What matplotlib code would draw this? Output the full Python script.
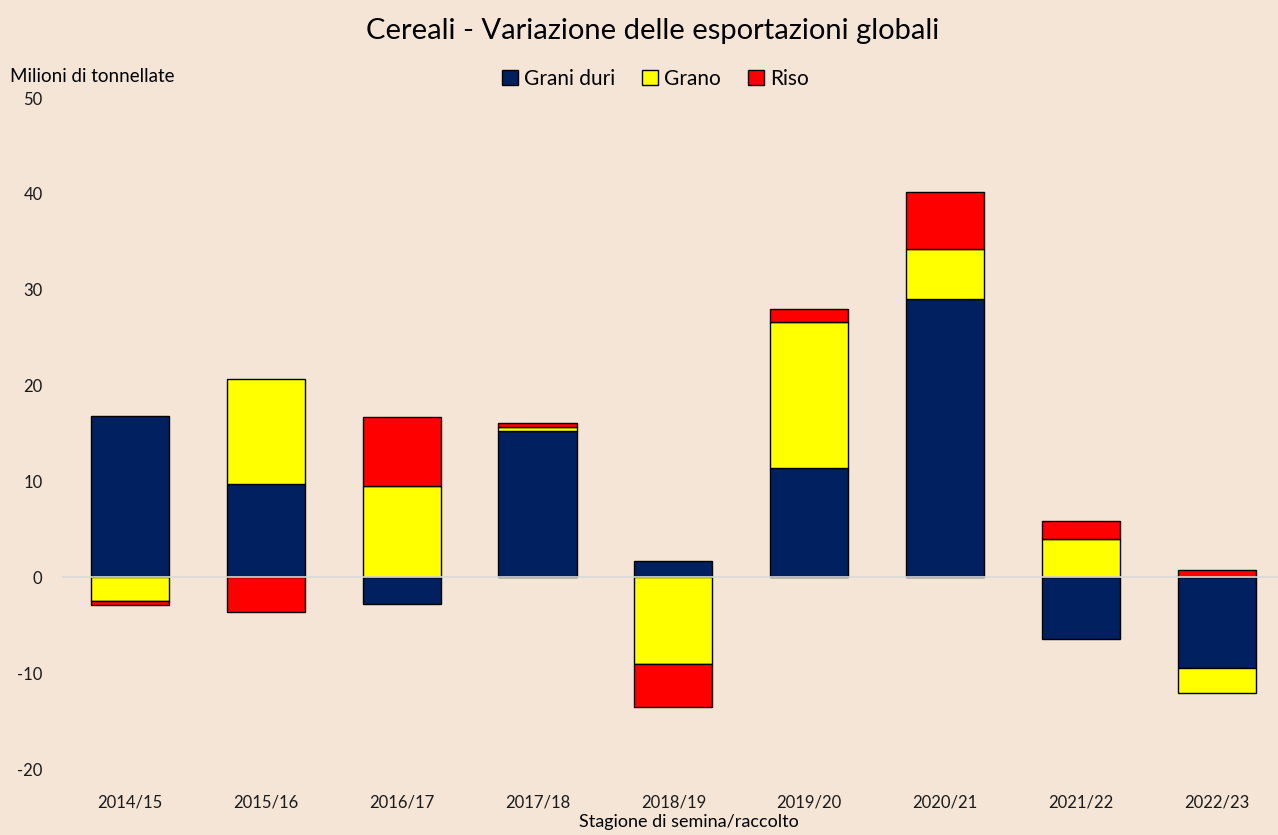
import matplotlib.pyplot as plt
import numpy as np

plt.rcParams['font.family'] = ['Lato', 'DejaVu Sans']
plt.rcParams['axes.unicode_minus'] = False

seasons = ["2014/15", "2015/16", "2016/17", "2017/18", "2018/19",
           "2019/20", "2020/21", "2021/22", "2022/23"]
grani_duri = [16.8, 9.7, -2.8, 15.3, 1.7, 11.4, 29.0, -6.4, -9.5]
grano = [-2.5, 11.0, 9.5, 0.4, -9.0, 15.2, 5.2, 4.0, -2.6]
riso = [-0.4, -3.6, 7.2, 0.4, -4.5, 1.4, 6.0, 1.9, 0.8]

series = [("Grani duri", grani_duri, "#002060"),
          ("Grano", grano, "#FFFF00"),
          ("Riso", riso, "#FF0000")]

bg = "#F5E5D6"

fig = plt.figure(figsize=(12.78, 8.35), dpi=100, facecolor=bg)
ax = fig.add_axes([0.0485, 0.079, 0.9515, 0.8036], facecolor=bg)

x = np.arange(len(seasons))
pos = np.zeros(len(seasons))
neg = np.zeros(len(seasons))
for name, vals, col in series:
    v = np.array(vals)
    bottom = np.where(v >= 0, pos, neg)
    ax.bar(x, v, 0.575, bottom=bottom, color=col, edgecolor="black",
           linewidth=1, label=name, zorder=2)
    pos += np.where(v >= 0, v, 0)
    neg += np.where(v < 0, v, 0)

ax.axhline(0, color="#D9D9D9", linewidth=1.2, zorder=3)

ax.set_ylim(-20, 50)
ax.set_xlim(-0.5, 8.45)
ax.set_yticks(range(-20, 51, 10))
ax.set_xticks(x)
ax.set_xticklabels(seasons)
ax.tick_params(length=0, labelsize=12, colors="#1a1a1a")
ax.tick_params(axis='y', pad=14)
ax.tick_params(axis='x', pad=18)
for s in ax.spines.values():
    s.set_visible(False)

fig.text(0.511, 0.963, "Cereali - Variazione delle esportazioni globali",
         ha="center", va="center", fontsize=21)
fig.text(0.008, 0.908, "Milioni di tonnellate", ha="left", va="center", fontsize=13.5)
fig.text(0.539, 0.016, "Stagione di semina/raccolto", ha="center", va="center", fontsize=13)

ax.legend(loc="center", bbox_to_anchor=(0.488, 1.029), ncol=3, frameon=False,
          fontsize=15, handlelength=0.75, handleheight=0.75, handletextpad=0.3,
          columnspacing=1.3)

fig.savefig("out.png", dpi=100, facecolor=bg)
